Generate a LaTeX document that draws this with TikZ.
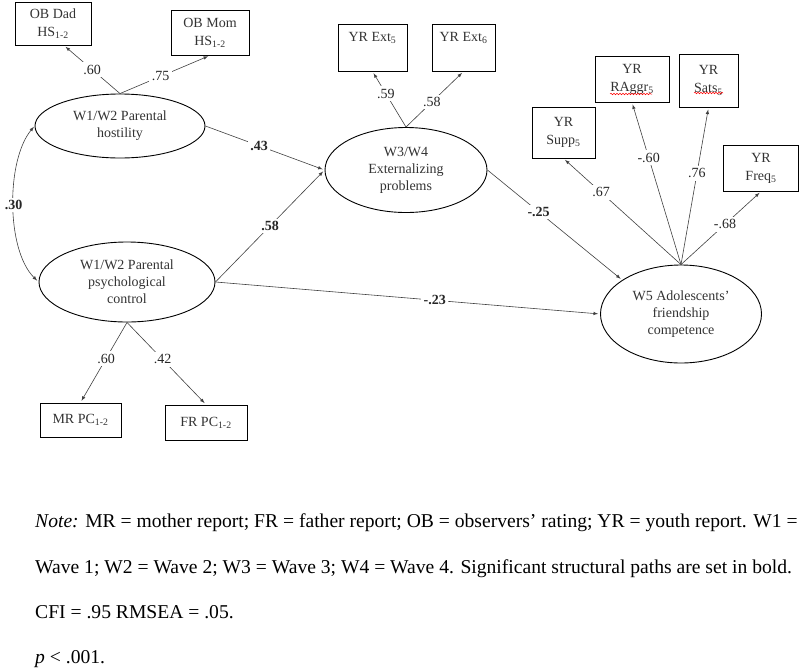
\documentclass[tikz,border=0pt]{standalone}
\usepackage{fontspec}
\setmainfont{Liberation Serif}
\usetikzlibrary{shapes.geometric,decorations.pathmorphing}

\begin{document}
\begin{tikzpicture}[x=1pt,y=-1pt]
    \tikzset{>=latex}
    \tikzset{
	latent/.style={draw,ellipse,inner sep=0pt,align=center,line width=0.9pt,
	    font=\fontsize{14}{17}\selectfont,text=black!80},
	indicator/.style={draw,rectangle,inner sep=0pt,align=center,line width=0.9pt,
	    font=\fontsize{14}{18}\selectfont,text=black!80},
	loading/.style={->,color=black!75,line width=0.6pt,shorten >=2pt},
	coef/.style={fill=white,inner sep=2.5pt,text=black!85,font=\fontsize{14}{16}\selectfont},
	bcoef/.style={coef,font=\fontsize{14}{16}\selectfont\bfseries},
	notetext/.style={anchor=base west,inner sep=0pt,font=\fontsize{19.6}{23}\selectfont}
    }
    \useasboundingbox (0,0) rectangle (800,667);

    % latent variables
    \node [latent,minimum width=170pt,minimum height=64pt] (host) at (120,126) {W1/W2 Parental\\hostility};
    \node [latent,minimum width=176pt,minimum height=80pt] (psych) at (127,282) {W1/W2 Parental\\psychological\\control};
    \node [latent,minimum width=162pt,minimum height=85pt] (ext) at (406,170) {W3/W4\\Externalizing\\problems};
    \node [latent,minimum width=161pt,minimum height=98pt] (friend) at (681,314) {W5 Adolescents'\\friendship\\competence};

    % indicators
    \node [indicator,minimum width=76pt,minimum height=43pt] (obdad) at (53,23.5) {OB Dad\\HS\textsubscript{1-2}};
    \node [indicator,minimum width=78pt,minimum height=45pt] (obmom) at (210,32.5) {OB Mom\\HS\textsubscript{1-2}};
    \node [indicator,minimum width=69pt,minimum height=47pt,text depth=22pt] (ext5) at (372.5,47.5) {YR Ext\textsubscript{5}};
    \node [indicator,minimum width=63pt,minimum height=47pt,text depth=22pt] (ext6) at (463.5,47.5) {YR Ext\textsubscript{6}};
    \node [indicator,minimum width=63pt,minimum height=51pt] (supp) at (563.5,132.5) {YR\\Supp\textsubscript{5}};
    \node [indicator,minimum width=74pt,minimum height=46pt] (raggr) at (632,79) {YR\\RAggr\textsubscript{5}};
    \node [indicator,minimum width=59pt,minimum height=53pt] (sats) at (708.5,80.5) {YR\\Sats\textsubscript{5}};
    \node [indicator,minimum width=75pt,minimum height=46pt] (freq) at (761,168) {YR\\Freq\textsubscript{5}};
    \node [indicator,minimum width=81pt,minimum height=34pt] (mrpc) at (80.5,420) {MR PC\textsubscript{1-2}};
    \node [indicator,minimum width=82pt,minimum height=35pt] (frpc) at (206,422.5) {FR PC\textsubscript{1-2}};

    % spelling marks
    \draw [red,line width=0.5pt,decorate,decoration={snake,amplitude=0.8pt,segment length=3pt}] (610,94) -- (652,94);
    \draw [red,line width=0.5pt,decorate,decoration={snake,amplitude=0.8pt,segment length=3pt}] (694,93) -- (723,93);

    % measurement paths
    \draw [loading] (host.north) -- node [coef,pos=0.5] {.60} ([xshift=11pt]obdad.south);
    \draw [loading] (host.north) -- node [coef,pos=0.45] {.75} (obmom.south);
    \draw [loading] (ext.north) -- node [coef,pos=0.6] {.59} (ext5.south);
    \draw [loading] (ext.north) -- node [coef,pos=0.45] {.58} (ext6.south);
    \draw [loading] (psych.south) -- node [coef,pos=0.45] {.60} (mrpc.north);
    \draw [loading] (psych.south) -- node [coef,pos=0.45] {.42} (frpc.north);
    \draw [loading] (friend.north) -- node [coef,pos=0.68] {.67} (supp.south);
    \draw [loading] (friend.north) -- node [coef,pos=0.66] {-.60} (raggr.south);
    \draw [loading] (friend.north) -- node [coef,pos=0.58] {.76} (sats.south);
    \draw [loading] (friend.north) -- node [coef,pos=0.55] {-.68} (freq.south);

    % structural paths
    \draw [loading] (host.east) -- node [bcoef,pos=0.45] {.43} (ext.west);
    \draw [loading] (psych.east) -- node [bcoef,pos=0.5] {.58} (ext.west);
    \draw [loading] (psych.east) -- node [bcoef,pos=0.57] {-.23} (friend.west);
    \draw [loading] (ext.east) -- node [bcoef,pos=0.38] {-.25} (friend.150);
    \draw [loading,<->,shorten <=1pt] (host.west) .. controls (6,160) and (6,250) .. node [bcoef,pos=0.5] {.30} (psych.west);

    % note
    \node [notetext] (n1) at (35,527) {\textit{Note:} MR = mother report; FR = father report; OB = observers’ rating; YR = youth report. W1 =};
    \node [notetext] (n2) at (35,573) {Wave 1; W2 = Wave 2; W3 = Wave 3; W4 = Wave 4. Significant structural paths are set in bold.};
    \node [notetext] (n3) at (35,618) {CFI = .95 RMSEA = .05.};
    \node [notetext] (n4) at (35,663) {\textit{p} < .001.};
\end{tikzpicture}
\end{document}
